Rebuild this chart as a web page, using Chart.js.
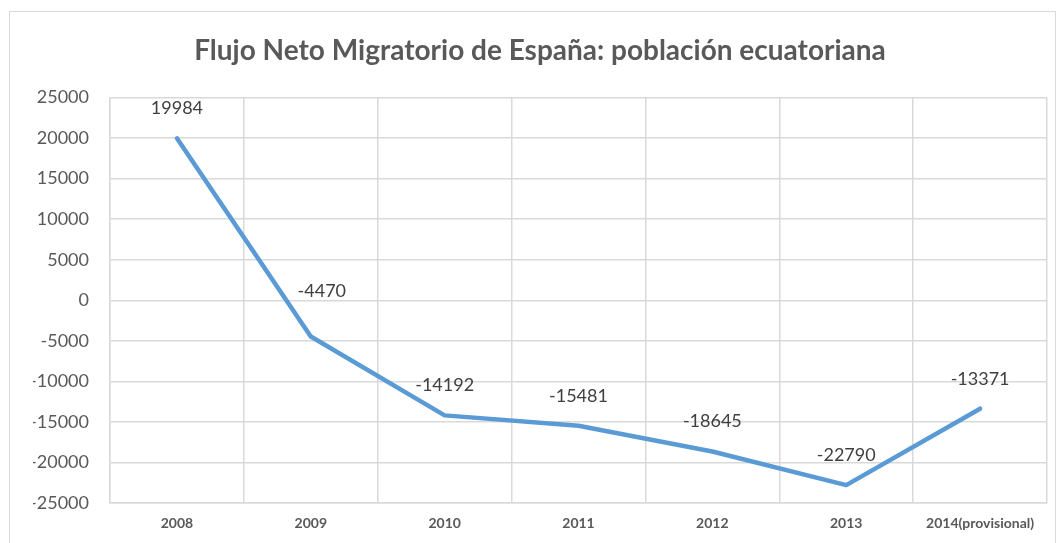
<!DOCTYPE html>
<html>
<head>
<meta charset="utf-8">
<script src="https://cdn.jsdelivr.net/npm/chart.js@4"></script>
<style>
  html, body { margin: 0; padding: 0; background: #fff; }
  #wrap { position: relative; width: 1058px; height: 543px; }
</style>
</head>
<body>
<div id="wrap"><canvas id="flujoChart" width="1058" height="543"></canvas></div>
<script>
const years = ['2008', '2009', '2010', '2011', '2012', '2013', '2014(provisional)'];
const flujoNeto = [19984, -4470, -14192, -15481, -18645, -22790, -13371];
const yTicks = [-25000, -20000, -15000, -10000, -5000, 0, 5000, 10000, 15000, 20000, 25000];

const FONT = 'Lato, "Open Sans", sans-serif';

// outer frame of the chart like the office export
const framePlugin = {
  id: 'frame',
  beforeDraw(chart) {
    const ctx = chart.ctx;
    ctx.save();
    ctx.fillStyle = '#fff';
    ctx.fillRect(0, 0, chart.width, chart.height);
    ctx.strokeStyle = '#d9d9d9';
    ctx.lineWidth = 1;
    ctx.strokeRect(9.5, 11.5, chart.width - 12, chart.height);
    ctx.restore();
  }
};

const valueLabels = {
  id: 'valueLabels',
  afterDatasetsDraw(chart) {
    const ctx = chart.ctx;
    const meta = chart.getDatasetMeta(0);
    ctx.save();
    ctx.font = '18px ' + FONT;
    ctx.fillStyle = '#404040';
    ctx.textAlign = 'center';
    ctx.textBaseline = 'middle';
    meta.data.forEach((pt, i) => {
      let dx = 0, dy = -30;
      if (i === 1) { dx = 11; dy = -45; }
      ctx.fillText(String(flujoNeto[i]), pt.x + dx, pt.y + dy);
    });
    ctx.restore();
  }
};

new Chart(document.getElementById('flujoChart'), {
  type: 'line',
  data: {
    labels: years,
    datasets: [{
      data: flujoNeto,
      borderColor: '#5b9bd5',
      borderWidth: 4.5,
      borderCapStyle: 'round',
      borderJoinStyle: 'round',
      pointRadius: 0,
      tension: 0,
      fill: false
    }]
  },
  options: {
    responsive: false,
    animation: false,
    // left padding pushes the title centre right like in the original
    layout: { padding: { left: 33, right: 11, top: 0, bottom: 0 } },
    plugins: {
      legend: { display: false },
      tooltip: { enabled: false },
      title: {
        display: true,
        text: 'Flujo Neto Migratorio de España: población ecuatoriana',
        color: '#595959',
        font: { family: FONT, size: 28, weight: 'bold' },
        padding: { top: 34, bottom: 30 }
      }
    },
    scales: {
      x: {
        offset: true,
        grid: { offset: true, color: '#d9d9d9', lineWidth: 1.5, drawTicks: false },
        border: { color: '#d9d9d9', width: 1.5 },
        ticks: {
          color: '#595959',
          font: { family: FONT, size: 14, weight: 'bold' },
          padding: 12,
          maxRotation: 0,
          autoSkip: false
        },
        afterFit(scale) { scale.height = 40; }
      },
      y: {
        min: -25000,
        max: 25000,
        afterBuildTicks(scale) { scale.ticks = yTicks.map(v => ({ value: v })); },
        grid: { color: '#d9d9d9', lineWidth: 1.5, drawTicks: false },
        border: { color: '#d9d9d9', width: 1.5 },
        ticks: {
          color: '#595959',
          font: { family: FONT, size: 18 },
          padding: 21,
          callback: v => String(v)
        },
        afterFit(scale) { scale.width = 77; }
      }
    }
  },
  plugins: [framePlugin, valueLabels]
});
</script>
</body>
</html>
